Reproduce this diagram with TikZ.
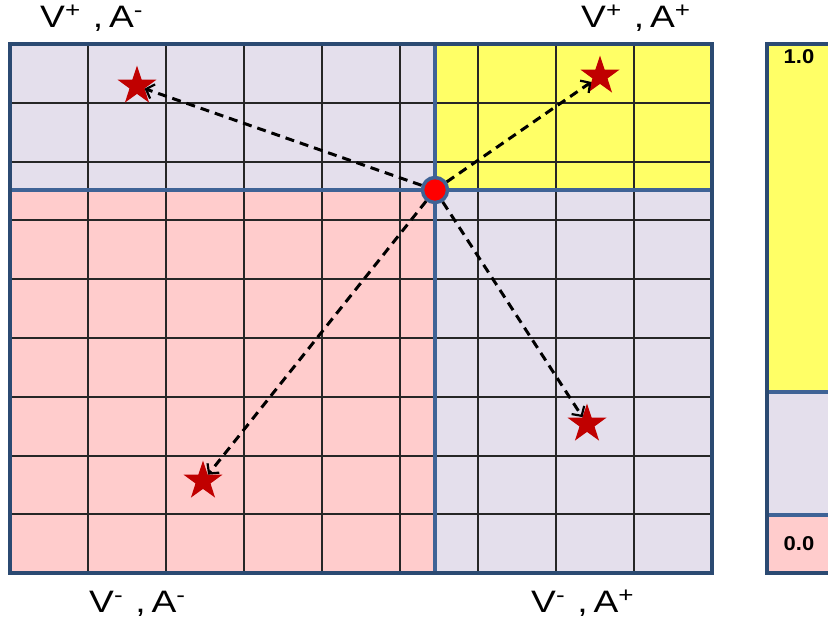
\documentclass[tikz,border=0pt]{standalone}
\usepackage{graphicx}
\usepackage{fontspec}
\setmainfont{Liberation Sans}
\usetikzlibrary{arrows.meta,positioning,shapes.geometric}
\definecolor{frameblue}{HTML}{2B4A72}
\definecolor{splitblue}{HTML}{3F6396}
\definecolor{lavq}{HTML}{E4DFEC}
\definecolor{pinkq}{HTML}{FFCCCC}
\definecolor{yellowq}{HTML}{FFFF66}
\definecolor{starred}{HTML}{C00000}
\newcommand{\valabel}[2]{\scalebox{1.2}[1]{V\textsuperscript{#1}\hspace{10pt},\hspace{5pt}A\textsuperscript{#2}}}
\tikzset{
  goal/.style={star,star points=5,star point ratio=2.6,fill=starred,minimum size=41pt,inner sep=0pt,outer sep=0pt},
  origin/.style={circle,fill=red,draw=splitblue,line width=3.5pt,minimum size=25pt,inner sep=0pt},
  move/.style={line width=3pt,black,dash pattern=on 9pt off 6pt,-{Straight Barb[length=7pt,width=15pt,line width=2.2pt]}},
  gridl/.style={line width=1.9pt,black!85},
  frame/.style={line width=4.5pt,frameblue},
  split/.style={line width=4pt,splitblue},
  quad/.style={font=\fontsize{31}{36}\selectfont,anchor=base west,inner sep=0pt},
  tick/.style={font=\bfseries\fontsize{20}{22}\selectfont,inner sep=0pt}
}

\begin{document}
\begin{tikzpicture}[x=1pt,y=-1pt]
  \useasboundingbox (0,0) rectangle (828,624);
  \clip (0,0) rectangle (828,624);

  % quadrants
  \fill[lavq] (10,44) rectangle (435,190);
  \fill[yellowq] (435,44) rectangle (712,190);
  \fill[pinkq] (10,190) rectangle (435,573);
  \fill[lavq] (435,190) rectangle (712,573);

  % grid
  \foreach \i in {1,...,8}{
    \draw[gridl] ({10+78*\i},44) -- ({10+78*\i},573);
    \draw[gridl] (10,{44+58.8*\i}) -- (712,{44+58.8*\i});
  }
  \draw[split] (435,44) -- (435,573);
  \draw[split] (10,190) -- (712,190);
  \draw[frame] (10,44) rectangle (712,573);

  % scale bar
  \fill[yellowq] (767,44) rectangle (840,392);
  \fill[lavq] (767,392) rectangle (840,515);
  \fill[pinkq] (767,515) rectangle (840,573);
  \draw[split] (767,392) -- (840,392);
  \draw[split] (767,515) -- (840,515);
  \draw[frame] (767,44) rectangle (840,573);
  \node[tick] (hi) at (799,57) {\scalebox{1.1}[1]{1.0}};
  \node[tick] (lo) at (799,544) {\scalebox{1.1}[1]{0.0}};

  % start point and goals
  \node[origin] (o) at (435,190) {};
  \node[goal] (vpam) at (137,86) {};
  \node[goal] (vpap) at (600,76) {};
  \node[goal] (vmam) at (203,481) {};
  \node[goal] (vmap) at (587,424) {};
  \draw[move] (o) -- (vpam);
  \draw[move] (o) -- (vpap);
  \draw[move] (o) -- (vmam);
  \draw[move] (o) -- (vmap);

  % quadrant labels
  \node[quad] (lpam) at (40,27) {\valabel{+}{-}};
  \node[quad] (lpap) at (581,27) {\valabel{+}{+}};
  \node[quad] (lmam) at (89,612) {\valabel{-}{-}};
  \node[quad] (lmap) at (531,612) {\valabel{-}{+}};
\end{tikzpicture}
\end{document}
